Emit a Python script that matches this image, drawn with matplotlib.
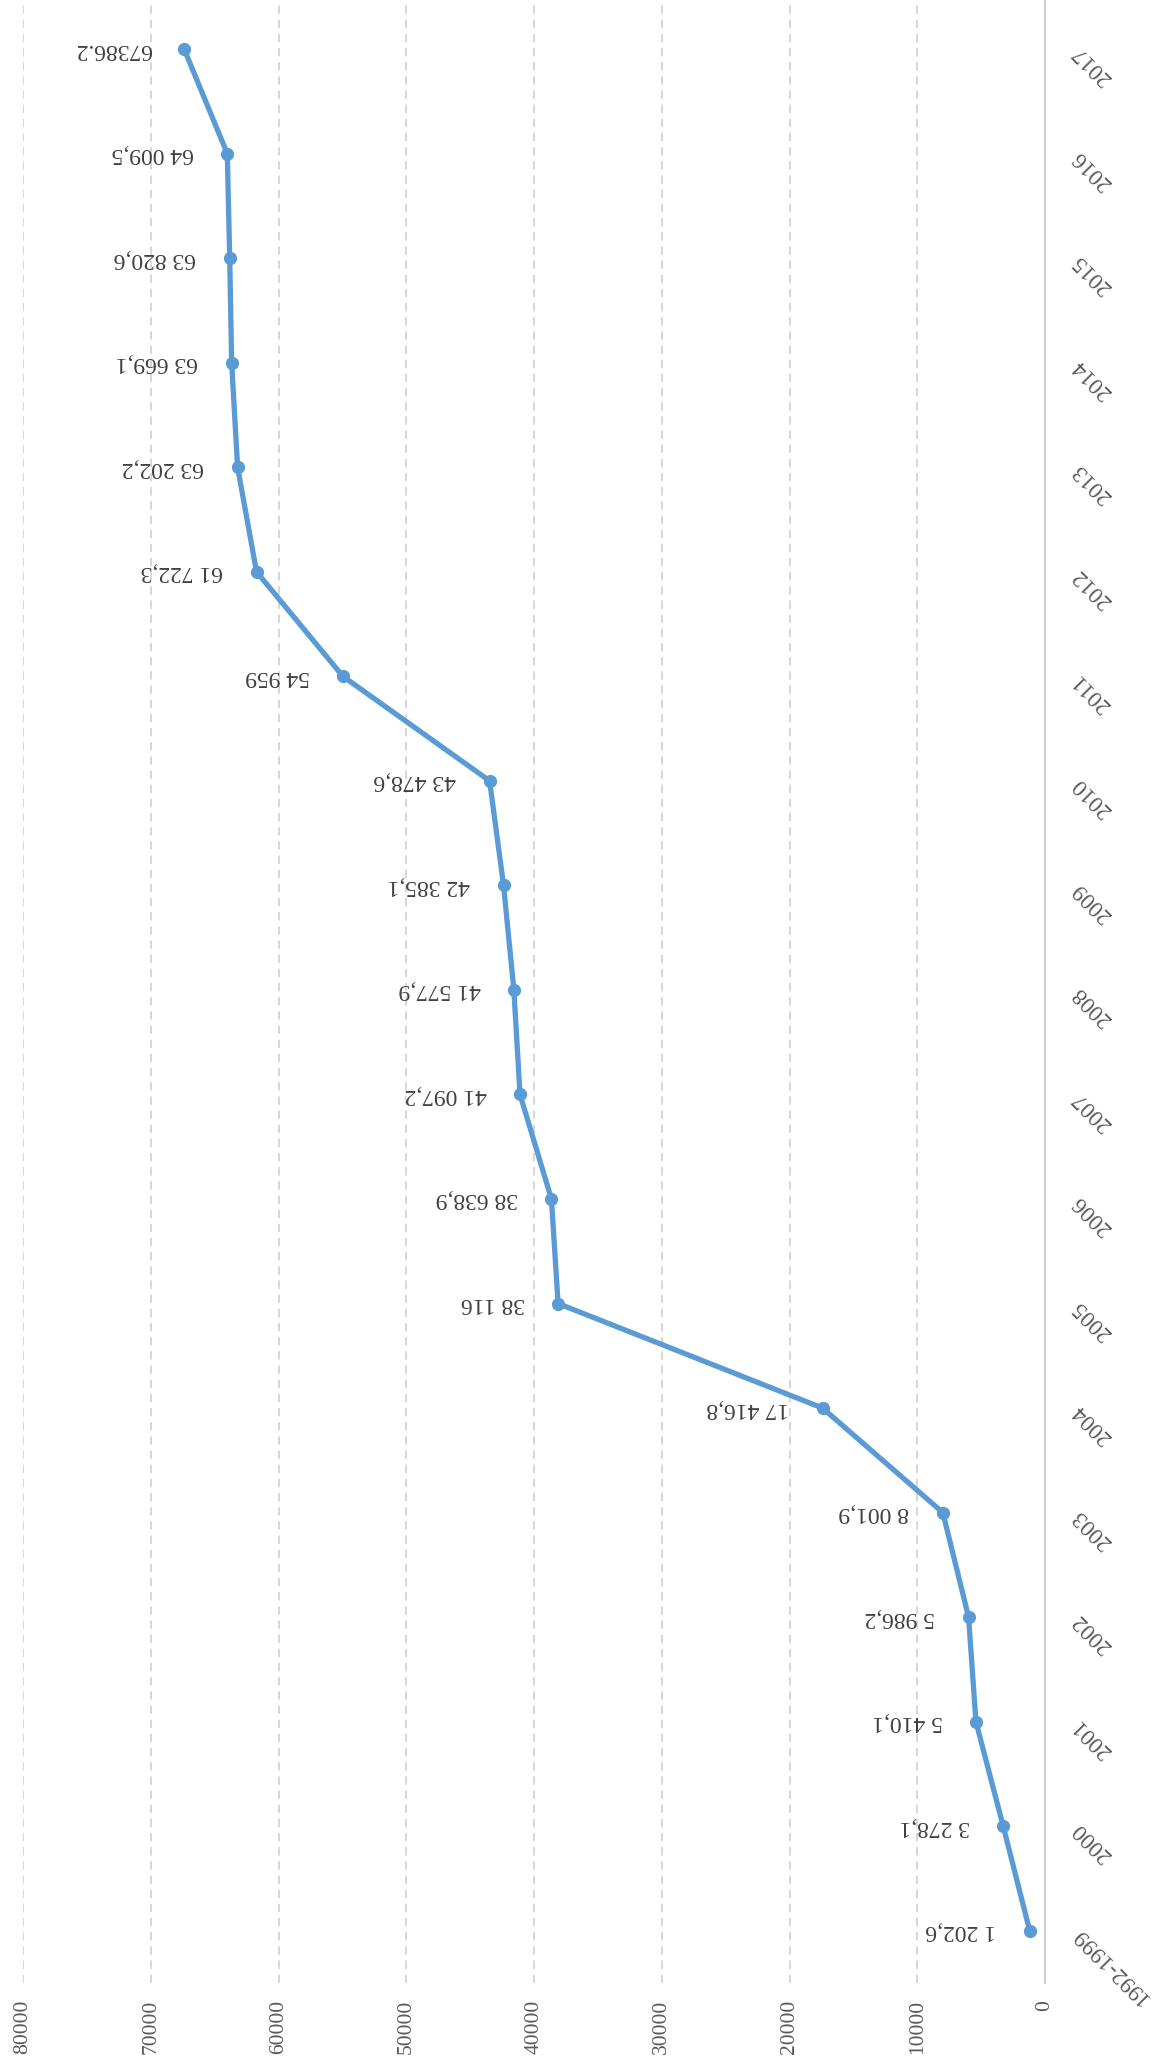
import matplotlib
matplotlib.use("Agg")
import matplotlib.pyplot as plt

# data
categories = ["1992-1999", "2000", "2001", "2002", "2003", "2004", "2005",
              "2006", "2007", "2008", "2009", "2010", "2011", "2012", "2013",
              "2014", "2015", "2016", "2017"]
values = [1202.6, 3278.1, 5410.1, 5986.2, 8001.9, 17416.8, 38116, 38638.9,
          41097.2, 41577.9, 42385.1, 43478.6, 54959, 61722.3, 63202.2,
          63669.1, 63820.6, 64009.5, 67386.2]
value_labels = ["1 202,6", "3 278,1", "5 410,1", "5 986,2", "8 001,9",
                "17 416,8", "38 116", "38 638,9", "41 097,2", "41 577,9",
                "42 385,1", "43 478,6", "54 959", "61 722,3", "63 202,2",
                "63 669,1", "63 820,6", "64 009,5", "67386.2"]
value_ticks = [0, 10000, 20000, 30000, 40000, 50000, 60000, 70000, 80000]


def main():
    plt.rcParams['font.family'] = ['Liberation Serif', 'DejaVu Serif']
    fig = plt.figure(figsize=(11.52, 20.69), dpi=100)
    ax = fig.add_axes([0.01997, 0.04157, 0.8872, 1.0 - 0.04157])

    pos = list(range(len(categories)))
    ax.plot(values, pos, color='#5B9BD5', lw=3.8, marker='o', ms=8.5,
            solid_capstyle='round', zorder=3)

    for v, p, lab in zip(values, pos, value_labels):
        ax.annotate(lab, (v, p), xytext=(-24, 0), textcoords='offset points',
                    rotation=180, ha='right', va='center',
                    fontsize=17, color='#404040')

    ax.set_xlim(80000, 0)
    ax.set_ylim(-0.5, 18.47)

    ax.set_xticks(value_ticks)
    ax.set_xticklabels([str(t) for t in value_ticks], rotation=90,
                       fontsize=15.5, color='#595959')
    ax.tick_params(axis='x', length=0, pad=12)

    ax.yaxis.tick_right()
    ax.set_yticks(pos)
    ax.set_yticklabels(categories, rotation=135, rotation_mode='anchor',
                       ha='right', va='center', fontsize=16.5, color='#595959')
    ax.tick_params(axis='y', length=0, pad=22)

    ax.grid(axis='x', color='#CFCFCF', lw=1.2, linestyle=(0, (5, 3.5)))
    ax.grid(axis='y', visible=False)
    for side in ['left', 'top', 'bottom']:
        ax.spines[side].set_visible(False)
    ax.spines['right'].set_color('#D0D0D0')
    ax.spines['right'].set_linewidth(1.6)

    fig.savefig("out.png", dpi=100)


if __name__ == "__main__":
    main()
